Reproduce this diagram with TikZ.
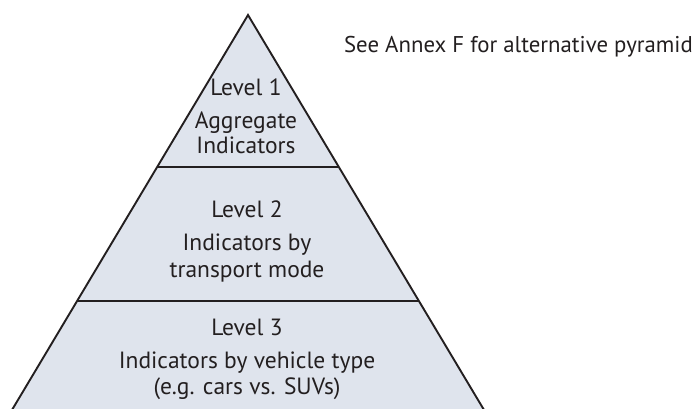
\documentclass[tikz,border=0pt]{standalone}
\usepackage{fontspec}
\setmainfont{PT Sans}
\usetikzlibrary{calc}
\definecolor{pyrfill}{RGB}{223,228,237}
\definecolor{ink}{RGB}{35,31,32}
\begin{document}
\begin{tikzpicture}[x=1pt,y=-1pt,
  lbl/.style={anchor=base,inner sep=0pt,font=\fontsize{23.5}{28}\selectfont,text=ink},
  edge/.style={draw=ink,line width=1.9pt}]
\useasboundingbox (0,0) rectangle (696,408);
\clip (0,0) rectangle (696,408);
\coordinate (A) at (248,15);
\coordinate (BL) at (0,430);
\coordinate (BR) at (496,430);
\coordinate (L1) at ($(A)!0.3663!(BL)$);
\coordinate (R1) at ($(A)!0.3663!(BR)$);
\coordinate (L2) at ($(A)!0.6892!(BL)$);
\coordinate (R2) at ($(A)!0.6892!(BR)$);
\fill[pyrfill] (A) -- (BL) -- (BR) -- cycle;
\draw[edge,line join=miter] (BL) -- (A) -- (BR);
\draw[edge] (L1) -- (R1);
\draw[edge] (L2) -- (R2);
\node[lbl] (l1) at (246,95) {Level 1};
\node[lbl] (l1a) at (246,128) {Aggregate};
\node[lbl] (l1b) at (246,153) {Indicators};
\node[lbl] (l2) at (247,217) {Level 2};
\node[lbl] (l2a) at (247,250) {Indicators by};
\node[lbl] (l2b) at (247,277) {transport mode};
\node[lbl] (l3) at (247,335) {Level 3};
\node[lbl] (l3a) at (247,368) {Indicators by vehicle type};
\node[lbl] (l3b) at (247,394) {(e.g. cars vs. SUVs)};
\node[lbl,anchor=base east,font=\fontsize{22.8}{27}\selectfont] (note) at (693,52) {See Annex F for alternative pyramid};
\end{tikzpicture}
\end{document}
